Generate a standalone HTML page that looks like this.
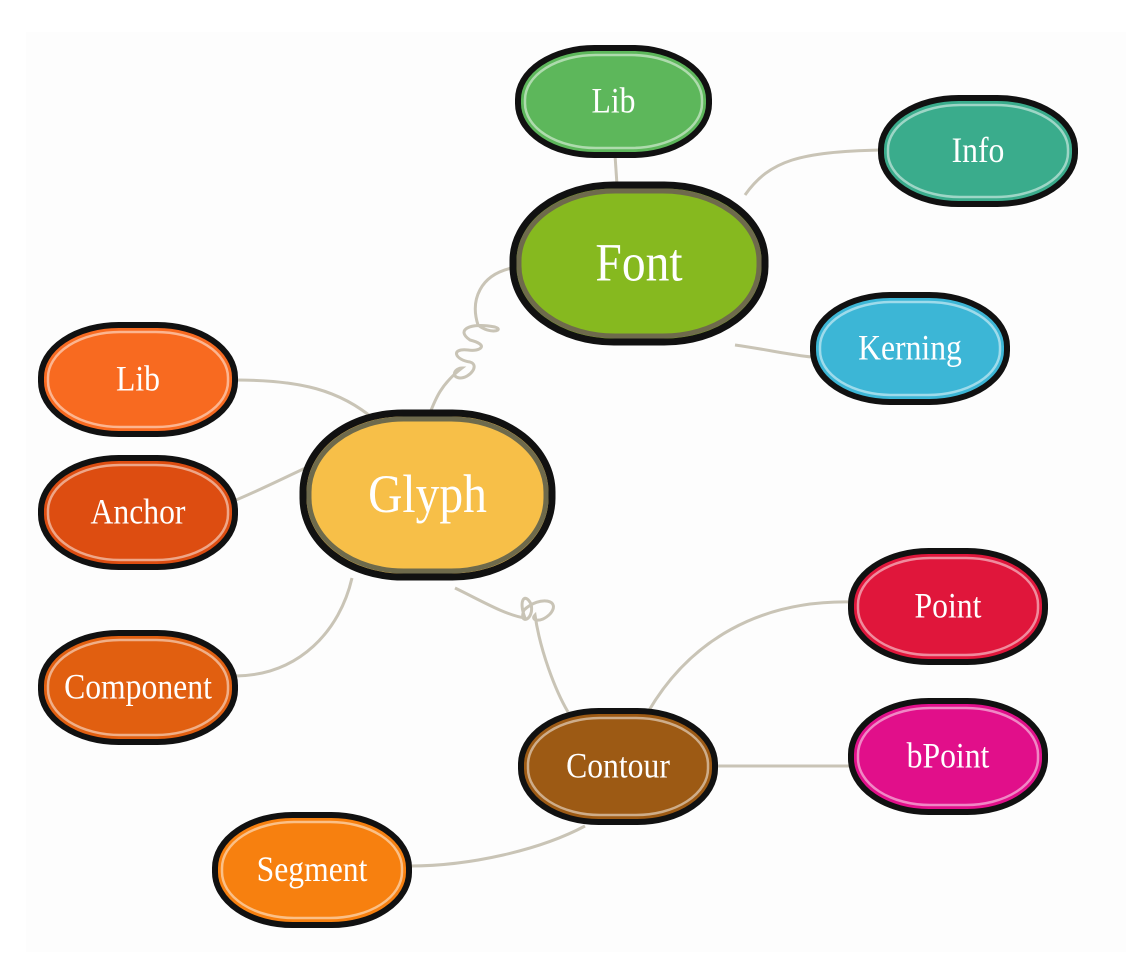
<!DOCTYPE html>
<html><head><meta charset="utf-8"><style>
html,body{margin:0;padding:0;background:#fff;}
svg{display:block;}
text{font-family:"Liberation Serif",serif;fill:#fff;text-anchor:middle;dominant-baseline:central;}
</style></head><body>
<svg id="map" width="1134" height="980" viewBox="0 0 1134 980" xmlns="http://www.w3.org/2000/svg">
<rect x="26" y="32" width="1100" height="920" fill="#fdfdfd"/>
<g id="links" fill="none" stroke="#c9c4b6" stroke-width="3">
<path d="M615,155 L617,185"/>
<path d="M745,195 C770,160 800,152 880,150"/>
<path d="M735,345 C770,350 790,355 812,357"/>
<path d="M512,268 C480,275 470,300 478,325 C490,335 505,330 495,327 C470,322 455,330 470,340 C490,345 480,352 468,350 C450,348 455,360 470,362 C480,365 470,378 460,378 C450,377 455,368 462,368 C440,385 435,400 428,418"/>
<path d="M236,380 C300,380 340,390 375,420"/>
<path d="M236,500 C260,490 290,475 312,465"/>
<path d="M236,676 C300,675 340,630 352,578"/>
<path d="M455,588 C480,600 505,615 525,618 C518,600 525,592 531,604 C535,620 518,626 524,610 C540,595 562,600 550,614 C540,624 530,620 535,615 C540,650 555,690 568,712"/>
<path d="M648,712 C690,640 760,600 852,602"/>
<path d="M718,766 L852,766"/>
<path d="M410,866 C470,866 540,850 585,826"/>
</g>
<g id="nodes"></g>
</svg>
<script>
const labels=["Lib","Info","Font","Kerning","Lib","Glyph","Anchor","Component","Point","bPoint","Contour","Segment"];
const names=["lib-font-node","info-node","font-node","kerning-node","lib-glyph-node","glyph-node","anchor-node","component-node","point-node","bpoint-node","contour-node","segment-node"];
const boxes=[[515,45,197,113],[878,95,200,112],[510,182,258,163],[810,292,200,113],[38,322,200,115],[300,410,255,170],[38,455,200,115],[38,630,200,115],[848,548,200,117],[848,698,200,117],[518,708,200,117],[212,812,200,116]];
const fills=["#5db75b","#3aac8c","#86b91f","#3cb6d6","#f86a20","#f7bf48","#dd4d11","#e15f10","#e0163b","#e10f8a","#9d5a14","#f7800f"];
const sizes=[36,36,54,36,36,54,36,36,36,36,36,36];
const g=document.getElementById('nodes');
const NS='http://www.w3.org/2000/svg';
labels.forEach((lab,i)=>{
  const [x,y,w,h]=boxes[i];
  const big=sizes[i]>40;
  const grp=document.createElementNS(NS,'g');
  
  
  const r=document.createElementNS(NS,'rect');
  r.setAttribute('x',x+3);r.setAttribute('y',y+3);r.setAttribute('width',w-6);r.setAttribute('height',h-6);
  r.setAttribute('rx',(w-6)*0.4);r.setAttribute('ry',(h-6)*0.48);
  r.setAttribute('fill',fills[i]);r.setAttribute('stroke','#111');r.setAttribute('stroke-width',big?7:6);
  
  
  grp.appendChild(r);
  const r2=document.createElementNS(NS,'rect');
  const ins=big?9:10;
  r2.setAttribute('x',x+ins);r2.setAttribute('y',y+ins);r2.setAttribute('width',w-2*ins);r2.setAttribute('height',h-2*ins);
  r2.setAttribute('rx',(w-2*ins)*0.4);r2.setAttribute('ry',(h-2*ins)*0.48);
  r2.setAttribute('fill','none');r2.setAttribute('stroke',big?'#6e6a4c':'rgba(255,255,255,0.5)');r2.setAttribute('stroke-width',big?5:2.5);
  
  
  grp.appendChild(r2);
  const t=document.createElementNS(NS,'text');
  t.setAttribute('x',x+w/2);t.setAttribute('y',y+h/2);
  t.setAttribute('font-size',sizes[i]);
  t.setAttribute('transform','translate('+(x+w/2)+',0) scale(0.88,1) translate('+(-(x+w/2))+',0)');
  t.textContent=lab;
  
  
  grp.appendChild(t);
  g.appendChild(grp);
});
</script>
</body></html>
